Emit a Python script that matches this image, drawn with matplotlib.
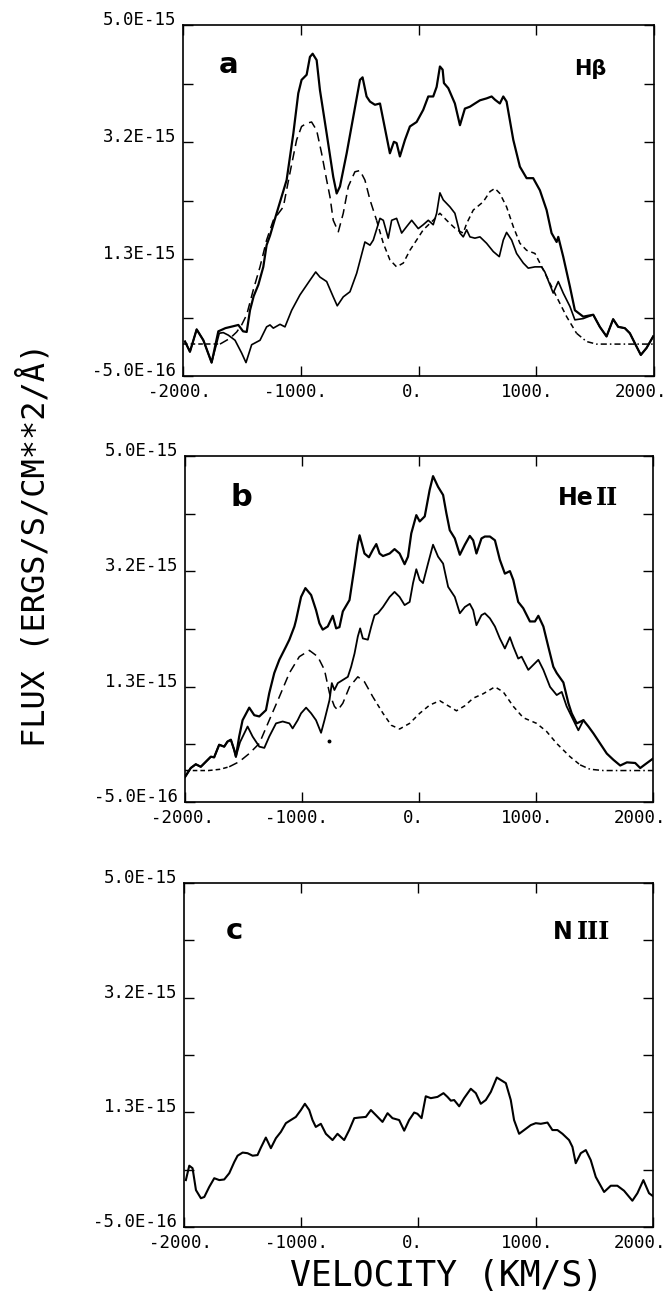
import numpy as np
import matplotlib
matplotlib.use("Agg")
import matplotlib.pyplot as plt
from matplotlib.transforms import ScaledTranslation

plt.rcParams['font.family'] = ['DejaVu Sans Mono', 'DejaVu Sans']

# velocity in km/s, flux in units of 1e-15 ergs/s/cm^2/A

# H-beta: observed profile
hb_total_v = [-1983, -1941, -1884, -1827, -1757, -1700, -1640, -1573, -1530, -1490,
              -1459, -1431, -1400, -1360, -1318, -1290, -1261, -1205, -1120, -1063,
              -1021, -993, -950, -922, -899, -865, -837, -780, -724, -695,
              -667, -610, -554, -497, -475, -441, -412, -370, -327, -299,
              -243, -209, -186, -158, -115, -73, -16, 40, 83, 125,
              154, 182, 205, 216, 253, 309, 352, 394, 437, 479,
              522, 578, 621, 649, 691, 720, 748, 805, 861, 918,
              974, 1031, 1088, 1130, 1173, 1187, 1229, 1286, 1328, 1399,
              1484, 1540, 1597, 1653, 1696, 1752, 1795, 1852, 1888, 1937, 1993]
hb_total_f = [0.04, -0.12, 0.23, 0.06, -0.29, 0.20, 0.25, 0.28, 0.30, 0.20,
              0.19, 0.53, 0.75, 0.93, 1.21, 1.55, 1.70, 2.05, 2.57, 3.30,
              3.93, 4.14, 4.22, 4.50, 4.55, 4.45, 3.98, 3.30, 2.62, 2.36,
              2.47, 2.99, 3.56, 4.14, 4.18, 3.88, 3.80, 3.75, 3.77, 3.51,
              2.99, 3.17, 3.15, 2.94, 3.20, 3.41, 3.48, 3.67, 3.88, 3.88,
              4.03, 4.35, 4.30, 4.09, 4.01, 3.77, 3.43, 3.69, 3.72, 3.77,
              3.82, 3.85, 3.88, 3.83, 3.77, 3.88, 3.80, 3.20, 2.78, 2.60,
              2.60, 2.41, 2.10, 1.74, 1.60, 1.68, 1.37, 0.90, 0.53, 0.43,
              0.46, 0.27, 0.12, 0.39, 0.27, 0.25, 0.17, -0.04, -0.17, -0.06, 0.12]

# H-beta: residual profile
hb_resid_v = [-1983, -1941, -1884, -1827, -1757, -1692, -1658, -1615, -1558, -1502,
              -1465, -1417, -1346, -1290, -1261, -1233, -1176, -1134, -1077, -1007,
              -922, -873, -837, -780, -724, -690, -639, -582, -525, -455,
              -412, -384, -327, -299, -257, -228, -186, -143, -101, -58,
              -2, 40, 83, 125, 154, 182, 210, 267, 309, 352,
              380, 409, 437, 479, 522, 578, 635, 686, 720, 748,
              791, 833, 890, 932, 989, 1045, 1073, 1116, 1144, 1187,
              1229, 1286, 1328, 1399, 1484, 1540, 1597, 1653, 1696, 1752,
              1795, 1852, 1888, 1937, 1993]
hb_resid_f = [0.04, -0.12, 0.23, 0.06, -0.29, 0.17, 0.18, 0.14, 0.06, -0.14,
              -0.29, -0.01, 0.06, 0.27, 0.30, 0.25, 0.31, 0.27, 0.53, 0.77,
              1.00, 1.13, 1.05, 0.98, 0.74, 0.60, 0.74, 0.82, 1.11, 1.60,
              1.55, 1.63, 1.97, 1.94, 1.66, 1.94, 1.97, 1.74, 1.84, 1.94,
              1.81, 1.87, 1.94, 1.87, 2.05, 2.37, 2.26, 2.15, 2.05, 1.74,
              1.68, 1.79, 1.68, 1.66, 1.68, 1.58, 1.45, 1.37, 1.63, 1.75,
              1.63, 1.42, 1.27, 1.19, 1.21, 1.21, 1.13, 0.93, 0.80, 0.98,
              0.80, 0.59, 0.38, 0.40, 0.46, 0.27, 0.12, 0.39, 0.27, 0.25,
              0.17, -0.04, -0.17, -0.06, 0.12]

# H-beta: model profile
hb_model_v = [-2000, -1850, -1686, -1601, -1544, -1502, -1459, -1403, -1346, -1290,
              -1233, -1148, -1092, -1035, -993, -950, -908, -865, -823, -780,
              -752, -724, -681, -639, -596, -540, -497, -455, -412, -356,
              -299, -243, -186, -129, -73, -16, 40, 125, 182, 239,
              324, 380, 409, 465, 550, 607, 649, 691, 748, 805,
              861, 918, 989, 1031, 1088, 1173, 1258, 1342, 1427, 1512,
              1700, 2000]
hb_model_f = [0.0, 0.0, 0.0, 0.09, 0.19, 0.30, 0.46, 0.85, 1.21, 1.63,
              1.94, 2.15, 2.68, 3.20, 3.41, 3.46, 3.48, 3.35, 2.99, 2.57,
              2.31, 1.94, 1.76, 2.05, 2.47, 2.70, 2.72, 2.57, 2.26, 1.94,
              1.58, 1.32, 1.21, 1.27, 1.47, 1.63, 1.79, 1.94, 2.05, 1.94,
              1.79, 1.74, 1.89, 2.10, 2.23, 2.39, 2.44, 2.36, 2.15, 1.84,
              1.58, 1.47, 1.42, 1.27, 1.06, 0.74, 0.43, 0.17, 0.04, 0.0,
              0.0, 0.0]

# He II: observed profile
he_total_v = [-1999, -1951, -1908, -1865, -1822, -1779, -1751, -1708, -1665, -1637,
              -1608, -1580, -1565, -1537, -1508, -1451, -1408, -1365, -1308, -1280,
              -1237, -1194, -1137, -1108, -1065, -1051, -1008, -971, -922, -880,
              -851, -823, -780, -737, -708, -680, -651, -594, -551, -523,
              -508, -466, -428, -394, -365, -337, -308, -251, -209, -166,
              -123, -94, -66, -23, 6, 49, 91, 120, 163, 206,
              234, 263, 306, 349, 392, 434, 463, 491, 534, 563,
              606, 649, 691, 734, 777, 806, 848, 891, 948, 991,
              1020, 1063, 1105, 1148, 1177, 1234, 1277, 1305, 1348, 1405,
              1448, 1491, 1548, 1605, 1662, 1720, 1777, 1848, 1891, 1934, 2000]
he_total_f = [-0.10, 0.04, 0.10, 0.06, 0.14, 0.22, 0.21, 0.41, 0.38, 0.46,
              0.49, 0.33, 0.22, 0.54, 0.80, 1.00, 0.88, 0.86, 0.96, 1.23,
              1.55, 1.76, 1.97, 2.08, 2.29, 2.39, 2.76, 2.90, 2.79, 2.55,
              2.34, 2.24, 2.29, 2.46, 2.26, 2.28, 2.53, 2.71, 3.24, 3.61,
              3.74, 3.45, 3.39, 3.51, 3.60, 3.45, 3.41, 3.45, 3.52, 3.45,
              3.28, 3.40, 3.77, 4.06, 3.96, 4.04, 4.46, 4.68, 4.51, 4.38,
              4.09, 3.82, 3.69, 3.43, 3.59, 3.73, 3.66, 3.45, 3.69, 3.72,
              3.72, 3.66, 3.35, 3.13, 3.17, 3.03, 2.68, 2.58, 2.37, 2.37,
              2.46, 2.29, 1.97, 1.65, 1.55, 1.40, 1.07, 0.91, 0.75, 0.80,
              0.70, 0.59, 0.43, 0.27, 0.17, 0.08, 0.13, 0.12, 0.04, 0.10, 0.19]

# He II: residual profile
he_resid_v = [-1999, -1951, -1908, -1865, -1822, -1779, -1751, -1708, -1665, -1637,
              -1608, -1580, -1565, -1530, -1465, -1422, -1365, -1322, -1280, -1222,
              -1165, -1108, -1080, -1037, -1008, -965, -922, -880, -837, -808,
              -765, -745, -723, -694, -651, -608, -580, -551, -523, -503,
              -480, -437, -408, -380, -351, -308, -251, -209, -166, -123,
              -80, -51, -23, 6, 34, 77, 120, 163, 206, 249,
              306, 349, 392, 434, 463, 491, 534, 563, 606, 649,
              691, 734, 777, 806, 848, 877, 934, 977, 1020, 1063,
              1120, 1177, 1220, 1262, 1320, 1362, 1405]
he_resid_f = [-0.10, 0.04, 0.10, 0.06, 0.14, 0.22, 0.21, 0.41, 0.38, 0.46,
              0.49, 0.33, 0.22, 0.45, 0.70, 0.54, 0.38, 0.36, 0.54, 0.75,
              0.78, 0.75, 0.67, 0.80, 0.91, 1.00, 0.91, 0.80, 0.60, 0.80,
              1.12, 1.39, 1.28, 1.39, 1.44, 1.49, 1.65, 1.86, 2.13, 2.26,
              2.10, 2.08, 2.29, 2.47, 2.50, 2.60, 2.76, 2.84, 2.76, 2.63,
              2.68, 2.98, 3.20, 3.03, 2.98, 3.29, 3.59, 3.40, 3.29, 2.92,
              2.76, 2.50, 2.60, 2.65, 2.55, 2.31, 2.47, 2.50, 2.42, 2.29,
              2.10, 1.94, 2.12, 1.97, 1.78, 1.81, 1.60, 1.68, 1.76, 1.60,
              1.33, 1.20, 1.25, 1.02, 0.80, 0.64, 0.80]

# He II: model profile
he_model_v = [-1999, -1800, -1700, -1622, -1537, -1451, -1365, -1280, -1194, -1108,
              -1023, -937, -865, -808, -765, -723, -694, -651, -594, -523,
              -466, -394, -308, -237, -166, -80, 6, 91, 177, 249,
              320, 392, 463, 548, 649, 720, 806, 891, 1005, 1091,
              1177, 1291, 1377, 1462, 1577, 1800, 2000]
he_model_f = [0.0, 0.0, 0.02, 0.06, 0.14, 0.27, 0.43, 0.80, 1.17, 1.55,
              1.81, 1.91, 1.81, 1.60, 1.23, 1.02, 0.96, 1.07, 1.33, 1.49,
              1.41, 1.17, 0.91, 0.72, 0.66, 0.75, 0.91, 1.04, 1.11, 1.03,
              0.95, 1.03, 1.15, 1.22, 1.33, 1.25, 1.02, 0.84, 0.75, 0.62,
              0.43, 0.22, 0.09, 0.02, 0.0, 0.0, 0.0]
he_dot_v = [-765]
he_dot_f = [0.47]

# N III profile
n3_v = [-1984, -1955, -1927, -1898, -1856, -1827, -1785, -1742, -1699, -1657,
        -1614, -1571, -1543, -1500, -1458, -1415, -1373, -1344, -1302, -1259,
        -1216, -1174, -1131, -1089, -1046, -1003, -969, -932, -904, -876,
        -833, -790, -733, -691, -634, -591, -548, -506, -449, -406,
        -364, -307, -264, -222, -165, -122, -80, -37, -9, 26,
        62, 105, 162, 213, 247, 276, 304, 347, 389, 446,
        489, 531, 574, 617, 668, 702, 745, 787, 815, 858,
        901, 958, 1000, 1043, 1100, 1142, 1185, 1228, 1284, 1313,
        1341, 1384, 1427, 1469, 1512, 1583, 1640, 1696, 1753, 1824,
        1867, 1918, 1966, 1995]
n3_f = [0.25, 0.48, 0.44, 0.09, -0.04, -0.02, 0.14, 0.28, 0.25, 0.26,
        0.36, 0.54, 0.64, 0.69, 0.68, 0.64, 0.65, 0.77, 0.93, 0.76,
        0.92, 1.02, 1.16, 1.21, 1.26, 1.37, 1.47, 1.37, 1.21, 1.10,
        1.15, 0.99, 0.89, 0.99, 0.89, 1.05, 1.24, 1.25, 1.26, 1.37,
        1.29, 1.18, 1.32, 1.24, 1.21, 1.04, 1.21, 1.33, 1.31, 1.24,
        1.59, 1.56, 1.58, 1.64, 1.58, 1.52, 1.53, 1.43, 1.56, 1.71,
        1.64, 1.47, 1.53, 1.66, 1.89, 1.85, 1.80, 1.53, 1.21, 0.99,
        1.05, 1.13, 1.16, 1.15, 1.17, 1.05, 1.05, 0.99, 0.89, 0.78,
        0.52, 0.68, 0.73, 0.57, 0.30, 0.06, 0.16, 0.16, 0.08, -0.08,
        0.04, 0.25, 0.04, -0.00]

vel_ticks = [-2000, -1000, 0, 1000, 2000]
vel_labels = ['-2000.', '-1000.', '0.', '1000.', '2000.']
flux_ticks = np.linspace(-0.5, 5.0, 7)
flux_labels = ['-5.0E-16', '', '1.3E-15', '', '3.2E-15', '', '5.0E-15']

# the plotter put the velocity labels a little left of their ticks (pixels)
vel_label_shift = [-3, -5, -6, -9, -13]

W, H = 670, 1294
fig = plt.figure(figsize=(W / 100, H / 100), dpi=100)


def panel(left, right, top, bottom):
    ax = fig.add_axes([left / W, 1 - bottom / H, (right - left) / W, (bottom - top) / H])
    ax.set_xlim(-2000, 2000)
    ax.set_ylim(-0.5, 5.0)
    ax.set_xticks(vel_ticks)
    ax.set_xticklabels(vel_labels)
    ax.set_yticks(flux_ticks)
    ax.set_yticklabels(flux_labels)
    ax.tick_params(direction='in', top=True, right=True, length=7, width=1.0,
                   labelsize=12.5, pad=5)
    for lab in ax.get_yticklabels():
        lab.set_verticalalignment('baseline')
    for lab, dx in zip(ax.get_xticklabels(), vel_label_shift):
        lab.set_transform(lab.get_transform() +
                          ScaledTranslation(dx / 100, 0, fig.dpi_scale_trans))
    for s in ax.spines.values():
        s.set_linewidth(1.2)
    return ax


def model_line(ax, v, f, pieces):
    v = np.asarray(v, float)
    f = np.asarray(f, float)
    for lo, hi, dash in pieces:
        m = (v >= lo) & (v <= hi)
        ax.plot(v[m], f[m], color='black', lw=1.1, dashes=dash)


bold = dict(family='DejaVu Sans', fontweight='bold', va='center')
roman = dict(family='DejaVu Serif', fontweight='bold', va='center')

# panel a: H-beta
ax = panel(183, 654, 25, 376)
ax.plot(hb_total_v, hb_total_f, color='black', lw=1.6)
ax.plot(hb_resid_v, hb_resid_f, color='black', lw=1.2)
model_line(ax, hb_model_v, hb_model_f,
           [(-2000, -1686, (3, 2)), (-1686, -356, (6, 3.5)),
            (-356, 1342, (3.5, 2.5)), (1342, 2000, (4, 2, 1, 2))])
ax.text(0.096, 0.886, 'a', transform=ax.transAxes, fontsize=21, ha='center', **bold)
ax.text(0.90, 0.875, 'Hβ', transform=ax.transAxes, fontsize=15, ha='right', **bold)

# panel b: He II
ax = panel(185, 653, 456, 802)
ax.plot(he_total_v, he_total_f, color='black', lw=1.6)
ax.plot(he_resid_v, he_resid_f, color='black', lw=1.3)
model_line(ax, he_model_v, he_model_f,
           [(-2000, -1622, (3, 2)), (-1622, -394, (6, 3.5)),
            (-394, 1377, (3, 2.5)), (1377, 2000, (4, 2, 1, 2))])
ax.plot(he_dot_v, he_dot_f, 'o', color='black', ms=1.8)
ax.text(0.121, 0.881, 'b', transform=ax.transAxes, fontsize=22, ha='center', **bold)
ax.text(0.874, 0.879, 'He', transform=ax.transAxes, fontsize=17, ha='right', **bold)
ax.text(0.878, 0.879, 'II', transform=ax.transAxes, fontsize=17, ha='left', **roman)

# panel c: N III
ax = panel(184, 653, 883, 1227)
ax.plot(n3_v, n3_f, color='black', lw=1.5)
ax.text(0.107, 0.860, 'c', transform=ax.transAxes, fontsize=21, ha='center', **bold)
ax.text(0.829, 0.859, 'N', transform=ax.transAxes, fontsize=17, ha='right', **bold)
ax.text(0.838, 0.859, 'III', transform=ax.transAxes, fontsize=17, ha='left', **roman)

fig.text(34 / W, 1 - 545 / H, 'FLUX (ERGS/S/CM**2/Å)', rotation=90,
         ha='center', va='center', fontsize=23, family='DejaVu Sans Mono')
fig.text(447 / W, 1 - 1286 / H, 'VELOCITY (KM/S)', ha='center', va='baseline',
         fontsize=25, family='DejaVu Sans Mono')

fig.savefig('out.png', dpi=100)
